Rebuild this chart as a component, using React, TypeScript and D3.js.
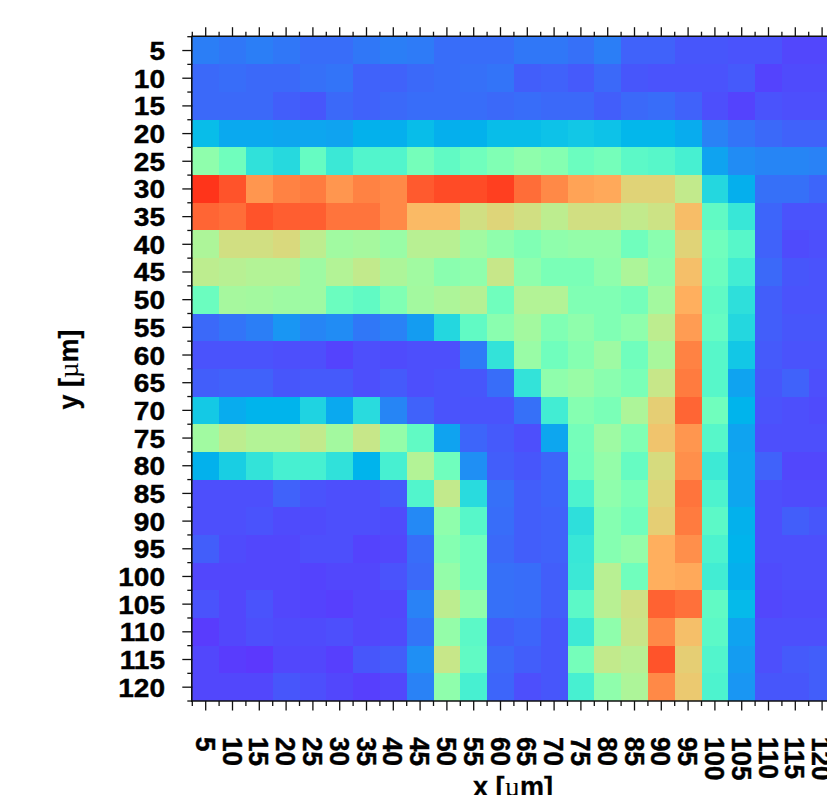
import React from "react";
import * as d3 from "d3";

const xTicks = [5,10,15,20,25,30,35,40,45,50,55,60,65,70,75,80,85,90,95,100,105,110,115,120];
const yTicks = xTicks;
const xLabel = "x [";
const yLabel = "y [";

const row5 = [.165,.155,.165,.155,.14,.14,.155,.165,.16,.14,.14,.14,.155,.155,.145,.165,.125,.125,.11,.11,.105,.105,.09,.09];
const row10 = [.135,.14,.135,.135,.145,.15,.125,.125,.135,.14,.145,.15,.12,.125,.115,.135,.11,.105,.105,.105,.115,.085,.095,.095];
const row15 = [.135,.135,.135,.12,.11,.135,.125,.135,.14,.14,.14,.135,.14,.135,.135,.12,.135,.14,.125,.1,.085,.105,.1,.1];
const row20 = [.265,.23,.23,.225,.225,.22,.245,.24,.265,.24,.245,.265,.265,.275,.285,.275,.255,.255,.235,.17,.15,.135,.125,.125];
const row25 = [.53,.47,.345,.325,.45,.365,.41,.41,.48,.44,.47,.5,.53,.51,.46,.48,.43,.42,.39,.22,.185,.175,.175,.17];
const row30 = [.935,.895,.8,.83,.84,.8,.83,.82,.885,.905,.905,.92,.86,.82,.78,.77,.69,.69,.63,.32,.24,.145,.145,.13];
const row35 = [.87,.86,.895,.88,.88,.85,.85,.82,.74,.74,.66,.685,.66,.62,.66,.66,.63,.65,.735,.44,.36,.13,.105,.105];
const row40 = [.59,.66,.66,.675,.62,.565,.575,.55,.61,.61,.565,.53,.5,.53,.54,.54,.47,.52,.69,.47,.42,.125,.095,.1];
const row45 = [.62,.61,.6,.6,.56,.6,.63,.59,.565,.52,.53,.64,.53,.49,.49,.53,.59,.535,.73,.46,.38,.135,.11,.105];
const row50 = [.46,.575,.57,.56,.56,.46,.44,.5,.57,.59,.605,.47,.6,.6,.5,.5,.48,.57,.76,.44,.34,.12,.105,.105];
const row55 = [.135,.15,.165,.2,.175,.185,.155,.17,.21,.32,.44,.52,.57,.5,.53,.5,.53,.62,.79,.45,.32,.12,.11,.11];
const row60 = [.105,.105,.105,.1,.1,.085,.1,.095,.1,.1,.16,.35,.55,.47,.51,.56,.47,.58,.83,.42,.285,.115,.105,.105];
const row65 = [.12,.125,.125,.11,.115,.115,.1,.115,.1,.105,.11,.14,.35,.53,.55,.52,.49,.64,.84,.42,.22,.11,.125,.1];
const row70 = [.29,.235,.25,.25,.31,.23,.33,.175,.125,.105,.105,.105,.145,.38,.51,.49,.59,.7,.87,.47,.25,.105,.1,.095];
const row75 = [.565,.62,.6,.6,.63,.57,.64,.54,.44,.22,.13,.115,.1,.225,.48,.56,.5,.72,.8,.42,.22,.1,.1,.1];
const row80 = [.245,.3,.35,.39,.39,.345,.25,.39,.6,.47,.19,.12,.11,.13,.475,.54,.45,.67,.81,.37,.225,.125,.09,.09];
const row85 = [.1,.1,.1,.125,.105,.1,.1,.115,.41,.63,.33,.145,.12,.13,.4,.53,.49,.685,.85,.4,.225,.1,.095,.095];
const row90 = [.1,.1,.105,.095,.095,.1,.1,.095,.18,.53,.42,.14,.12,.125,.34,.51,.47,.7,.84,.43,.245,.1,.12,.11];
const row95 = [.12,.095,.09,.09,.1,.1,.085,.09,.14,.51,.47,.135,.12,.125,.36,.51,.54,.76,.81,.4,.25,.1,.1,.1];
const row100 = [.09,.09,.09,.09,.085,.09,.09,.105,.135,.54,.47,.145,.14,.12,.365,.61,.47,.76,.77,.38,.24,.095,.1,.1];
const row105 = [.105,.09,.105,.09,.085,.08,.09,.09,.17,.62,.53,.145,.14,.12,.43,.61,.655,.875,.855,.44,.26,.09,.095,.095];
const row110 = [.075,.09,.1,.095,.095,.1,.09,.095,.15,.54,.43,.12,.13,.11,.37,.53,.645,.82,.73,.43,.22,.1,.1,.1];
const row115 = [.09,.075,.07,.09,.09,.08,.11,.12,.19,.64,.44,.135,.12,.11,.48,.63,.61,.895,.7,.41,.21,.1,.115,.12];
const row120 = [.09,.09,.09,.11,.1,.09,.08,.09,.17,.53,.39,.13,.1,.11,.39,.53,.59,.82,.71,.4,.2,.11,.11,.12];
const rows = [row5,row10,row15,row20,row25,row30,row35,row40,row45,row50,row55,row60,row65,row70,row75,row80,row85,row90,row95,row100,row105,row110,row115,row120];

// matplotlib-style "rainbow" colormap
const rainbow = (t: number) => {
  const r = Math.min(1, Math.abs(2 * t - 0.5));
  const g = Math.sin(Math.PI * t);
  const b = Math.cos((Math.PI * t) / 2);
  return d3.rgb(r * 255, g * 255, b * 255).formatHex();
};
const color = d3.scaleSequential(rainbow).domain([0, 1]);

const W = 827, H = 795;
const L = 192.3, T = 36.7, CW = 26.8, CH = 27.68;
const x = d3.scaleLinear().domain([2.5, 122.5]).range([L, L + 24 * CW]);
const y = d3.scaleLinear().domain([2.5, 122.5]).range([T, T + 24 * CH]);
const minor = d3.range(2.5, 123, 5);
const B = y(122.5);
const fam = "'Liberation Sans', Arial, sans-serif";
const SX = 1.08;
const muFont = "'Liberation Serif', serif";

export default function App() {
  return (
    <svg width={W} height={H} viewBox={`0 0 ${W} ${H}`} style={{ position: "fixed", left: 0, top: 0, background: "#fff" }}>
      <g shapeRendering="crispEdges">
        {rows.map((row, j) =>
          row.map((v, i) => (
            <rect key={`${i}-${j}`} x={x(xTicks[i] - 2.5)} y={y(yTicks[j] - 2.5)} width={CW} height={CH} fill={color(v)} />
          ))
        )}
      </g>
      <g stroke="#111" strokeWidth={1.3}>
        {xTicks.map((t) => (
          <g key={t}>
            <line x1={x(t)} x2={x(t)} y1={T} y2={T - 9.5} />
            <line x1={x(t)} x2={x(t)} y1={B} y2={B + 9.5} />
          </g>
        ))}
        {minor.map((t) => (
          <g key={t}>
            <line x1={x(t)} x2={x(t)} y1={T} y2={T - 5} />
            <line x1={x(t)} x2={x(t)} y1={B} y2={B + 5} />
            <line y1={y(t)} y2={y(t)} x1={L} x2={L - 5} />
          </g>
        ))}
        {yTicks.map((t) => (
          <line key={t} y1={y(t)} y2={y(t)} x1={L} x2={L - 10} />
        ))}
      </g>
      <g stroke="#111" strokeWidth={1.6} fill="none">
        <line x1={L - 0.5} x2={W} y1={T - 0.5} y2={T - 0.5} />
        <line x1={L - 0.5} x2={W} y1={B} y2={B} />
        <line x1={L - 0.5} x2={L - 0.5} y1={T - 1} y2={B + 1} />
      </g>
      <g fontFamily={fam} fontWeight={700} fontSize={26} fill="#000" stroke="#000" strokeWidth={0.4}>
        {yTicks.map((t) => (
          <text key={t} transform={`translate(165,${y(t) + 9.5}) scale(${SX},1)`} textAnchor="end">{t}</text>
        ))}
        {xTicks.map((t) => (
          <text key={t} transform={`translate(${x(t) - 10},737) rotate(90) scale(1,${SX})`}>{t}</text>
        ))}
      </g>
      <g fontFamily={fam} fontWeight={700} fontSize={27} fill="#000" stroke="#000" strokeWidth={0.3}>
        <text transform="translate(473,795.5)">
          {xLabel}<tspan fontFamily={muFont} fontWeight={400} strokeWidth={0}>µ</tspan>m]
        </text>
        <text transform="translate(78,369.5) rotate(-90)" textAnchor="middle">
          {yLabel}<tspan fontFamily={muFont} fontWeight={400} strokeWidth={0}>µ</tspan>m]
        </text>
      </g>
    </svg>
  );
}
